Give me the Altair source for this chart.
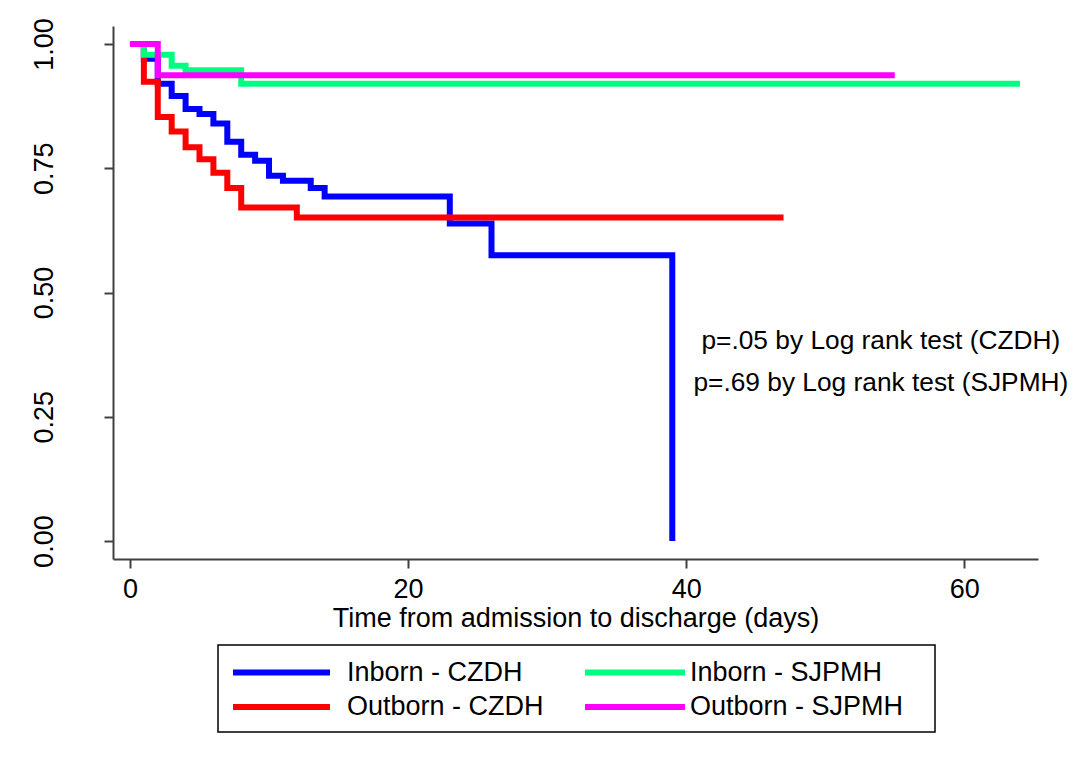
import altair as alt
import pandas as pd

# Kaplan-Meier step curves
blue_t = [0, 1, 2, 3, 4, 5, 6, 7, 8, 9, 10, 11, 13, 14, 23, 26, 39]
blue_s = [1.0, 0.970, 0.920, 0.895, 0.869, 0.859, 0.840, 0.803, 0.777, 0.765,
          0.735, 0.725, 0.710, 0.693, 0.639, 0.575, 0.0]
red_t = [0, 1, 2, 3, 4, 5, 6, 7, 8, 12, 47]
red_s = [1.0, 0.924, 0.853, 0.824, 0.792, 0.768, 0.741, 0.710, 0.671, 0.651, 0.651]
green_t = [0, 1, 3, 4, 8, 64]
green_s = [1.0, 0.978, 0.956, 0.947, 0.920, 0.920]
mag_t = [0, 2, 55]
mag_s = [1.0, 0.937, 0.937]

series_names = ["Inborn - CZDH", "Outborn - CZDH", "Inborn - SJPMH", "Outborn - SJPMH"]
series_colors = ["#0000FF", "#FF0000", "#00FF80", "#FF00FF"]
# legend grid: column / row of every series
legend_col = [0, 0, 1, 1]
legend_row = [0, 1, 0, 1]

x_ticks = [0, 20, 40, 60]
y_ticks = [0, 0.25, 0.5, 0.75, 1.0]

note_x = [54, 54]
note_y = [0.402, 0.318]
note_text = ["p=.05 by Log rank test (CZDH)", "p=.69 by Log rank test (SJPMH)"]

FONT = "Liberation Sans"
FS = 27
W, H = 925, 533

rows = []
for name, ts, ss in zip(series_names, [blue_t, red_t, green_t, mag_t],
                        [blue_s, red_s, green_s, mag_s]):
    for t, s in zip(ts, ss):
        rows.append({"series": name, "t": t, "s": s})
df = pd.DataFrame(rows)

xscale = alt.Scale(domain=[-1.22, 65.3], nice=False, zero=False)
yscale = alt.Scale(domain=[-0.036, 1.036], nice=False, zero=False)
cscale = alt.Scale(domain=series_names, range=series_colors)

xaxis = alt.Axis(values=x_ticks, title="Time from admission to discharge (days)",
                 grid=False, tickSize=9, labelPadding=8, titlePadding=3,
                 labelFontSize=FS, titleFontSize=FS, labelFont=FONT, titleFont=FONT,
                 titleFontWeight="normal", labelColor="black", titleColor="black",
                 domainColor="#404040", tickColor="#404040", domainWidth=2, tickWidth=2)
yaxis = alt.Axis(values=y_ticks, format=".2f", title=None, grid=False, tickSize=9,
                 labelAngle=270, labelAlign="center", labelBaseline="bottom",
                 labelPadding=46, labelFontSize=FS, labelFont=FONT, labelColor="black",
                 domainColor="#404040", tickColor="#404040", domainWidth=2, tickWidth=2)

layers = []
for i, name in enumerate(series_names):
    layers.append(
        alt.Chart(df).transform_filter(alt.datum.series == name)
        .mark_line(interpolate="step-after", strokeWidth=6, strokeJoin="miter")
        .encode(
            x=alt.X("t:Q", scale=xscale, axis=xaxis if i == 0 else None),
            y=alt.Y("s:Q", scale=yscale, axis=yaxis if i == 0 else None),
            color=alt.Color("series:N", scale=cscale, legend=None),
            order=alt.Order("t:Q"),
        )
    )

notes = pd.DataFrame({"x": note_x, "y": note_y, "label": note_text})
text = alt.Chart(notes).mark_text(align="center", baseline="middle", font=FONT,
                                   fontSize=26.3, color="black").encode(
    x=alt.X("x:Q", scale=xscale, axis=None),
    y=alt.Y("y:Q", scale=yscale, axis=None),
    text="label:N")

# ---- legend (Stata-style boxed, two columns) in pixel space of the plot area ----
leg = pd.DataFrame({"series": series_names, "col": legend_col, "row": legend_row})
px = alt.Scale(domain=[0, W], range=[0, W], nice=False, zero=False)
py = alt.Scale(domain=[0, H], range=[0, H], nice=False, zero=False)

leg_box = alt.Chart(pd.DataFrame({"series": ["box"]})).mark_rect(
    fill="white", stroke="black", strokeWidth=1.5).encode(
    x=alt.value(105), x2=alt.value(822), y=alt.value(619), y2=alt.value(706))

leg_base = alt.Chart(leg).transform_calculate(
    x0="120 + datum.col * 352",
    x1="217 + datum.col * 355",
    tx="234 + datum.col * 343",
    ty="646.5 + datum.row * 34.5",
)
leg_lines = leg_base.mark_rule(strokeWidth=6).encode(
    x=alt.X("x0:Q", scale=px, axis=None),
    x2="x1:Q",
    y=alt.Y("ty:Q", scale=py, axis=None),
    color=alt.Color("series:N", scale=cscale, legend=None),
)
leg_text = leg_base.mark_text(align="left", baseline="middle", font=FONT,
                              fontSize=FS, color="black").encode(
    x=alt.X("tx:Q", scale=px, axis=None),
    y=alt.Y("ty:Q", scale=py, axis=None),
    text="series:N",
)

chart = alt.layer(*layers, text, leg_box, leg_lines, leg_text).resolve_scale(
    x="independent", y="independent"
).properties(
    width=W, height=H,
    autosize=alt.AutoSizeParams(type="none"),
    padding={"left": 105, "top": 18, "right": 29, "bottom": 195},
    background="white",
).configure_view(stroke=None)

chart.save("out.html", embed_options={"renderer": "svg", "actions": False})
